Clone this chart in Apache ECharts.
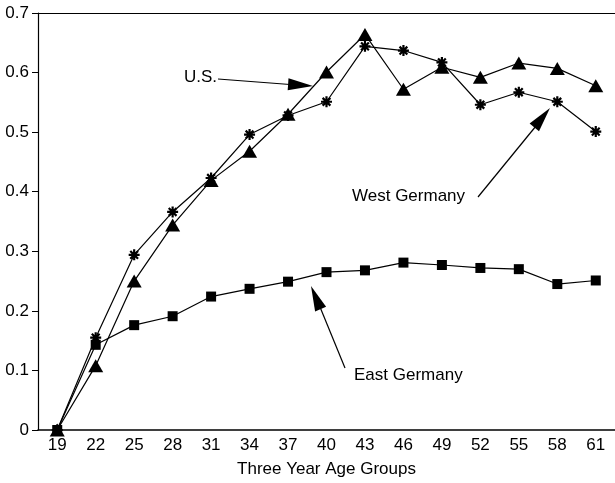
<!DOCTYPE html>
<html>
<head>
<meta charset="utf-8">
<script src="https://cdn.jsdelivr.net/npm/echarts@6/dist/echarts.min.js"></script>
<style>
html,body{margin:0;padding:0;background:#fff;}
#chart{width:615px;height:483px;}
</style>
</head>
<body>
<div id="chart"></div>
<script>
const ageGroups = ['19','22','25','28','31','34','37','40','43','46','49','52','55','58','61'];
const usValues = [0, 0.108, 0.25, 0.344, 0.419, 0.468, 0.53, 0.601, 0.664, 0.572, 0.609, 0.592, 0.616, 0.607, 0.578];
const westGermanyValues = [0, 0.155, 0.294, 0.366, 0.423, 0.496, 0.528, 0.551, 0.644, 0.637, 0.617, 0.546, 0.567, 0.551, 0.501];
const eastGermanyValues = [0, 0.143, 0.176, 0.191, 0.224, 0.237, 0.249, 0.265, 0.268, 0.281, 0.277, 0.272, 0.27, 0.245, 0.251];
const yTicks = [0, 0.1, 0.2, 0.3, 0.4, 0.5, 0.6, 0.7];
const xAxisTitle = 'Three Year Age Groups';

const FONT = '"Liberation Sans", Arial, Helvetica, sans-serif';
const asterisk = 'path://M-5,-1L5,-1L5,1L-5,1Z' +
  'M1,-5L1,5L-1,5L-1,-5Z' +
  'M-2.83,-4.24L4.24,2.83L2.83,4.24L-4.24,-2.83Z' +
  'M-4.24,2.83L2.83,-4.24L4.24,-2.83L-2.83,4.24Z';

const chart = echarts.init(document.getElementById('chart'), null, {renderer: 'canvas'});
const lineStyle = {color: '#000', width: 1.2};
chart.setOption({
  animation: false,
  backgroundColor: '#fff',
  textStyle: {fontFamily: FONT, color: '#000'},
  grid: {left: 38, top: 13, width: 583, height: 421},
  xAxis: [{
    type: 'category',
    data: ageGroups,
    boundaryGap: true,
    name: xAxisTitle,
    nameLocation: 'middle',
    nameGap: 31,
    nameTextStyle: {fontFamily: FONT, fontSize: 17, color: '#000'},
    axisLine: {lineStyle: {color: '#000', width: 1.5}},
    axisTick: {alignWithLabel: true, inside: true, length: 4, lineStyle: {color: '#000'}},
    axisLabel: {fontFamily: FONT, fontSize: 17, color: '#000', margin: 7, interval: 0},
    splitLine: {show: false}
  }, {
    type: 'category',
    data: ageGroups,
    position: 'top',
    axisLine: {show: true, lineStyle: {color: '#000', width: 1.2}},
    axisTick: {show: false},
    axisLabel: {show: false},
    splitLine: {show: false}
  }],
  yAxis: {
    type: 'value',
    min: yTicks[0],
    max: yTicks[yTicks.length - 1],
    interval: 0.1,
    axisLine: {show: true, lineStyle: {color: '#000', width: 1.2}},
    axisTick: {show: true, length: 6, lineStyle: {color: '#000'}},
    axisLabel: {fontFamily: FONT, fontSize: 17, color: '#000', margin: 9,
      formatter: v => (Math.abs(v) < 1e-9 ? '0' : v.toFixed(1))},
    splitLine: {show: false}
  },
  series: [
    {name: 'East Germany', type: 'line', data: eastGermanyValues, symbol: 'rect', symbolSize: 10,
      clip: false, lineStyle: lineStyle, itemStyle: {color: '#000'}},
    {name: 'West Germany', type: 'line', data: westGermanyValues, symbol: asterisk, symbolSize: 11,
      clip: false, lineStyle: lineStyle, itemStyle: {color: '#000'}},
    {name: 'U.S.', type: 'line', data: usValues, symbol: 'triangle', symbolSize: [15, 13],
      clip: false, lineStyle: lineStyle, itemStyle: {color: '#000'}}
  ],
  graphic: [
    {type: 'text', left: 184, top: 69, style: {text: 'U.S.', font: '17px ' + FONT, fill: '#000'}},
    {type: 'line', shape: {x1: 218, y1: 79, x2: 290, y2: 84.5}, style: {stroke: '#000', lineWidth: 1.2}},
    {type: 'polygon', shape: {points: [[313, 86], [288.5, 78.2], [287.7, 90.2]]}, style: {fill: '#000'}},
    {type: 'text', left: 352, top: 188, style: {text: 'West Germany', font: '17px ' + FONT, fill: '#000'}},
    {type: 'line', shape: {x1: 478, y1: 197, x2: 536, y2: 126}, style: {stroke: '#000', lineWidth: 1.2}},
    {type: 'polygon', shape: {points: [[550, 108], [539, 131.2], [529.6, 123.6]]}, style: {fill: '#000'}},
    {type: 'text', left: 354, top: 367, style: {text: 'East Germany', font: '17px ' + FONT, fill: '#000'}},
    {type: 'line', shape: {x1: 345, y1: 368, x2: 320, y2: 307}, style: {stroke: '#000', lineWidth: 1.2}},
    {type: 'polygon', shape: {points: [[311, 286], [326.1, 306.8], [315.1, 311.4]]}, style: {fill: '#000'}}
  ]
});
</script>
</body>
</html>
